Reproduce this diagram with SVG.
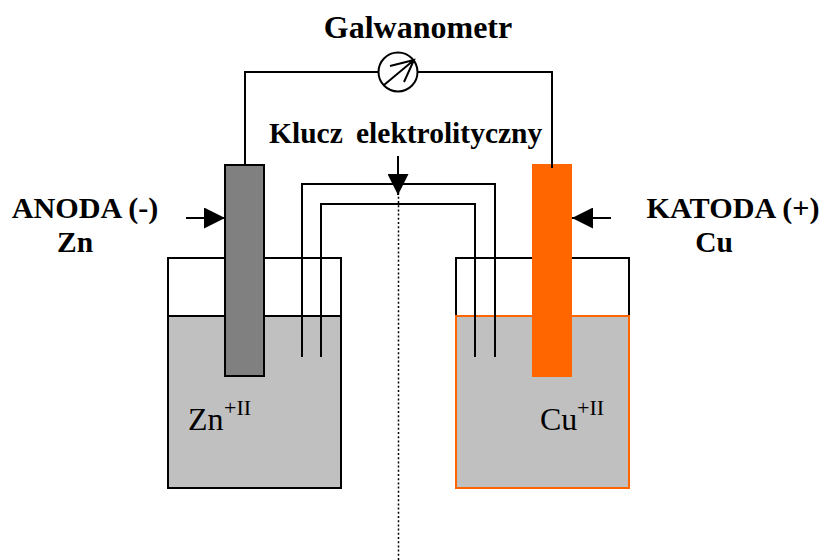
<svg xmlns="http://www.w3.org/2000/svg" width="822" height="560" viewBox="0 0 822 560">
<style>
.w{fill:none;stroke:#000;stroke-width:2}
.t{font-family:"Liberation Serif","Times New Roman",serif;fill:#000}
.b{font-weight:bold;font-size:32px}
.bs{font-weight:bold;font-size:29.5px}
.a{font-weight:bold;font-size:30.2px}
.i{font-size:32px}
.s{font-size:22px}
</style>
<defs>
<marker id="ah" markerUnits="userSpaceOnUse" markerWidth="21" markerHeight="21" refX="21" refY="10.5" orient="auto"><path d="M0 0L21 10.5L0 21Z" fill="#000"/></marker>
</defs>
<rect width="822" height="560" fill="#fff"/>
<g id="beaker-left">
<rect x="168" y="316" width="173" height="172" fill="#c0c0c0"/>
<rect x="168" y="258" width="173" height="230" class="w"/>
<path d="M168 316H341" class="w"/>
</g>
<g id="beaker-right">
<rect x="456" y="316" width="173" height="172" fill="#c0c0c0"/>
<path d="M456 316V258H629V316" class="w"/>
<rect x="456" y="316" width="173" height="172" fill="none" stroke="#ff6600" stroke-width="2"/>
</g>
<g id="connectors">
<path d="M245 165V72H378M418 72H552V168" class="w"/>
<path d="M302 357V184H495V357M321 357V204H475V357" class="w"/>
<path d="M398.5 560V190" fill="none" stroke="#000" stroke-width="1.5" stroke-dasharray="2 2.2"/>
<path d="M398 156V195" class="w" marker-end="url(#ah)"/>
<path d="M186 218H225" class="w" marker-end="url(#ah)"/>
<path d="M611 218H572" class="w" marker-end="url(#ah)"/>
</g>
<g id="anode"><rect x="225" y="165" width="39" height="211" fill="#808080" stroke="#000" stroke-width="2"/></g>
<g id="cathode"><rect x="532" y="164" width="40" height="213" fill="#ff6600"/></g>
<path d="M552 164V168" class="w"/>
<g id="galvanometer">
<circle cx="398" cy="72" r="19.5" fill="#fff" stroke="#000" stroke-width="2"/>
<path d="M384 85L414 60M390 66L414 60L404 82" class="w"/>
<text class="t b" x="418" y="38" text-anchor="middle">Galwanometr</text>
</g>
<g id="labels">
<text class="t bs" x="269" y="143">Klucz</text>
<text class="t bs" x="356" y="143">elektrolityczny</text>
<text class="t a" x="85" y="218" text-anchor="middle">ANODA (-)</text>
<text class="t bs" x="75" y="252" text-anchor="middle">Zn</text>
<text class="t a" x="733" y="218" text-anchor="middle">KATODA (+)</text>
<text class="t bs" x="714" y="252" text-anchor="middle">Cu</text>
<text class="t i" x="188" y="430">Zn</text>
<text class="t s" x="224" y="415">+II</text>
<text class="t i" x="540" y="430">Cu</text>
<text class="t s" x="577" y="415">+II</text>
</g>
</svg>
